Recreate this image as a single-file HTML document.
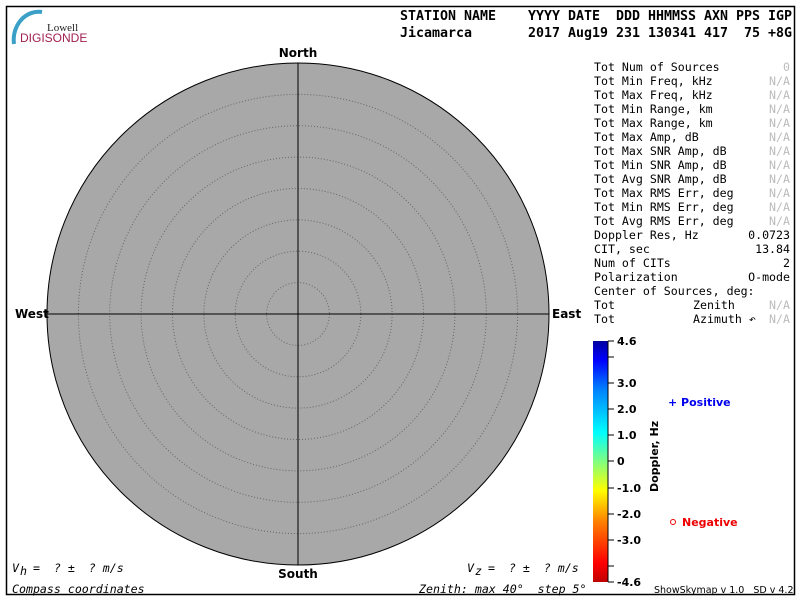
<!DOCTYPE html>
<html><head><meta charset="utf-8"><style>
body{margin:0;background:#fff}
svg{display:block}
.m{font-family:"DejaVu Sans Mono","Liberation Mono",monospace;font-size:11.6px;fill:#000}
.g{fill:#bbb}
.h{font-family:"DejaVu Sans Mono","Liberation Mono",monospace;font-size:13.3px;font-weight:bold}
.b{font-family:"DejaVu Sans","Liberation Sans",sans-serif;font-weight:bold;font-size:12px}
.c{font-family:"DejaVu Sans","Liberation Sans",sans-serif;font-weight:bold;font-size:11px}
.i{font-family:"DejaVu Sans Mono","Liberation Mono",monospace;font-size:11.6px;font-style:italic}
</style></head><body>
<svg width="800" height="600" xmlns="http://www.w3.org/2000/svg">
<defs><linearGradient id="cb" x1="0" y1="1" x2="0" y2="0">
<stop offset="0" stop-color="#c00000"/><stop offset="0.08" stop-color="#ff0000"/>
<stop offset="0.25" stop-color="#ff8000"/><stop offset="0.38" stop-color="#ffff00"/>
<stop offset="0.5" stop-color="#80ff80"/><stop offset="0.62" stop-color="#00ffff"/>
<stop offset="0.8" stop-color="#0080ff"/><stop offset="0.92" stop-color="#0000ff"/><stop offset="1" stop-color="#0000a0"/>
</linearGradient></defs>
<rect x="6.5" y="6.5" width="788" height="588" fill="none" stroke="#000" stroke-width="1.5"/>
<path d="M14 44 A25 28 0 0 1 42 12" fill="none" stroke="#3aa0c8" stroke-width="4"/>
<text x="47" y="31" font-family="Liberation Serif,serif" font-size="11" fill="#222">Lowell</text>
<text x="20" y="42" font-family="Liberation Sans,sans-serif" font-size="12" fill="#a02050">DIGISONDE</text>
<text class="h" x="400" y="20" textLength="392" lengthAdjust="spacingAndGlyphs" xml:space="preserve">STATION NAME    YYYY DATE  DDD HHMMSS AXN PPS IGP</text>
<text class="h" x="400" y="37" textLength="392" lengthAdjust="spacingAndGlyphs" xml:space="preserve">Jicamarca       2017 Aug19 231 130341 417  75 +8G</text>
<circle cx="298" cy="314" r="251" fill="#a8a8a8" stroke="#000" stroke-width="1"/>
<g fill="none" stroke="#666" stroke-width="1" stroke-dasharray="1,2">
<circle cx="298" cy="314" r="31.4"/><circle cx="298" cy="314" r="62.8"/><circle cx="298" cy="314" r="94.1"/>
<circle cx="298" cy="314" r="125.5"/><circle cx="298" cy="314" r="156.9"/><circle cx="298" cy="314" r="188.3"/><circle cx="298" cy="314" r="219.6"/>
</g>
<line x1="298" y1="63" x2="298" y2="565" stroke="#000"/>
<line x1="47" y1="314" x2="549" y2="314" stroke="#000"/>
<text class="b" x="298" y="57" text-anchor="middle">North</text>
<text class="b" x="298" y="578" text-anchor="middle">South</text>
<text class="b" x="15" y="318">West</text>
<text class="b" x="552" y="318">East</text>
<g class="m">
<text x="594" y="71">Tot Num of Sources</text><text x="790" y="71" text-anchor="end" class="g">0</text>
<text x="594" y="85">Tot Min Freq, kHz</text><text x="790" y="85" text-anchor="end" class="g">N/A</text>
<text x="594" y="99">Tot Max Freq, kHz</text><text x="790" y="99" text-anchor="end" class="g">N/A</text>
<text x="594" y="113">Tot Min Range, km</text><text x="790" y="113" text-anchor="end" class="g">N/A</text>
<text x="594" y="127">Tot Max Range, km</text><text x="790" y="127" text-anchor="end" class="g">N/A</text>
<text x="594" y="141">Tot Max Amp, dB</text><text x="790" y="141" text-anchor="end" class="g">N/A</text>
<text x="594" y="155">Tot Max SNR Amp, dB</text><text x="790" y="155" text-anchor="end" class="g">N/A</text>
<text x="594" y="169">Tot Min SNR Amp, dB</text><text x="790" y="169" text-anchor="end" class="g">N/A</text>
<text x="594" y="183">Tot Avg SNR Amp, dB</text><text x="790" y="183" text-anchor="end" class="g">N/A</text>
<text x="594" y="197">Tot Max RMS Err, deg</text><text x="790" y="197" text-anchor="end" class="g">N/A</text>
<text x="594" y="211">Tot Min RMS Err, deg</text><text x="790" y="211" text-anchor="end" class="g">N/A</text>
<text x="594" y="225">Tot Avg RMS Err, deg</text><text x="790" y="225" text-anchor="end" class="g">N/A</text>
<text x="594" y="239">Doppler Res, Hz</text><text x="790" y="239" text-anchor="end">0.0723</text>
<text x="594" y="253">CIT, sec</text><text x="790" y="253" text-anchor="end">13.84</text>
<text x="594" y="267">Num of CITs</text><text x="790" y="267" text-anchor="end">2</text>
<text x="594" y="281">Polarization</text><text x="790" y="281" text-anchor="end">O-mode</text>
<text x="594" y="295">Center of Sources, deg:</text>
<text x="594" y="309">Tot</text><text x="693" y="309">Zenith</text><text x="790" y="309" text-anchor="end" class="g">N/A</text>
<text x="594" y="323">Tot</text><text x="693" y="323">Azimuth ↶</text><text x="790" y="323" text-anchor="end" class="g">N/A</text>
</g>
<rect x="593" y="341" width="15" height="241" fill="url(#cb)"/>
<line x1="608" y1="341" x2="608" y2="582" stroke="#000"/>
<g stroke="#000">
<line x1="608" y1="341" x2="614" y2="341"/><line x1="608" y1="357" x2="614" y2="357"/><line x1="608" y1="383" x2="614" y2="383"/>
<line x1="608" y1="409" x2="614" y2="409"/><line x1="608" y1="435" x2="614" y2="435"/><line x1="608" y1="461" x2="614" y2="461"/>
<line x1="608" y1="488" x2="614" y2="488"/><line x1="608" y1="514" x2="614" y2="514"/><line x1="608" y1="540" x2="614" y2="540"/>
<line x1="608" y1="566" x2="614" y2="566"/><line x1="608" y1="582" x2="614" y2="582"/>
</g>
<g class="c">
<text x="617" y="345">4.6</text><text x="617" y="387">3.0</text><text x="617" y="413">2.0</text><text x="617" y="439">1.0</text>
<text x="617" y="465">0</text><text x="617" y="492">-1.0</text><text x="617" y="518">-2.0</text><text x="617" y="544">-3.0</text><text x="617" y="586">-4.6</text>
</g>
<text class="c" font-size="10" transform="translate(658,492) rotate(-90)">Doppler, Hz</text>
<text class="c" x="668" y="406" fill="#0000ee">+ Positive</text>
<circle cx="673" cy="522" r="2.5" fill="none" stroke="#ee0000"/>
<text class="c" x="682" y="526" fill="#ee0000">Negative</text>
<text class="i" x="12" y="572" xml:space="preserve">V  =  ? ±  ? m/s</text>
<text class="i" x="20" y="575" font-size="9">h</text>
<text class="i" x="467" y="572" xml:space="preserve">V  =  ? ±  ? m/s</text>
<text class="i" x="475" y="575" font-size="9">z</text>
<text class="i" x="12" y="593">Compass coordinates</text>
<text class="i" x="419" y="593" xml:space="preserve">Zenith: max 40°  step 5°</text>
<text x="654" y="593" font-family="DejaVu Sans,sans-serif" font-size="9.5" xml:space="preserve">ShowSkymap v 1.0   SD v 4.2</text>
</svg>
</body></html>
